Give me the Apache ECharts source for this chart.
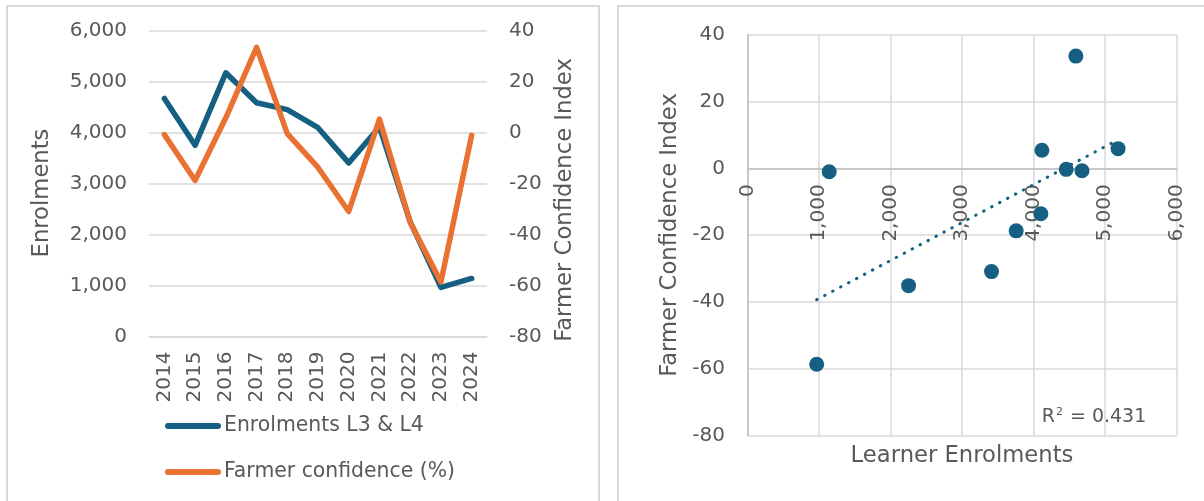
<!DOCTYPE html>
<html>
<head>
<meta charset="utf-8">
<script src="https://cdn.jsdelivr.net/npm/echarts@6/dist/echarts.min.js"></script>
<style>
html,body{margin:0;padding:0;background:#ffffff;}
#chart{width:1204px;height:501px;}
</style>
</head>
<body>
<div id="chart"></div>
<script>
// ---- data ----
const years = ['2014','2015','2016','2017','2018','2019','2020','2021','2022','2023','2024'];
const enrolments = [4675, 3755, 5180, 4590, 4455, 4100, 3410, 4115, 2250, 965, 1140];
const confidence = [-0.7, -18.7, 5.9, 33.6, -0.3, -13.6, -30.9, 5.4, -35.1, -58.6, -1.0];
const seriesNames = ['Enrolments L3 & L4', 'Farmer confidence (%)'];
const axisTitles = { enrol: 'Enrolments', conf: 'Farmer Confidence Index', learner: 'Learner Enrolments' };
const r2Label = '0.431';

// ---- styles ----
const BLUE = '#156082', ORANGE = '#E97132', TXT = '#595959', GRID = '#d9d9d9', AX = '#bfbfbf';
const FONT = '"DejaVu Sans", sans-serif';

// scatter pairs and linear trendline (least squares, computed from the data)
const pairs = enrolments.map((e, i) => [e, confidence[i]]);
const n = pairs.length;
const mx = enrolments.reduce((a, b) => a + b, 0) / n;
const my = confidence.reduce((a, b) => a + b, 0) / n;
let sxy = 0, sxx = 0;
pairs.forEach(([x, y]) => { sxy += (x - mx) * (y - my); sxx += (x - mx) * (x - mx); });
const slope = sxy / sxx, icpt = my - slope * mx;
const xMin = Math.min(...enrolments), xMax = Math.max(...enrolments);
const trend = [[xMin, icpt + slope * xMin], [xMax, icpt + slope * xMax]];

const fmt = v => Number(v).toLocaleString('en-US');
const tickFont = { color: TXT, fontFamily: FONT, fontSize: 20 };

// scatter grid geometry; x axis is drawn where y = 0
const SG = { left: 747.7, top: 34.7, width: 429, height: 401 };
const Y2 = { min: -80, max: 40 };
const zeroOffset = -SG.height * (0 - Y2.min) / (Y2.max - Y2.min);

const chart = echarts.init(document.getElementById('chart'), null, { renderer: 'canvas' });
chart.setOption({
  animation: false,
  backgroundColor: '#ffffff',
  textStyle: { fontFamily: FONT },
  graphic: [
    { type: 'rect', shape: { x: 7, y: 6, width: 592, height: 520 }, style: { fill: 'none', stroke: GRID, lineWidth: 2 }, z: 0 },
    { type: 'rect', shape: { x: 618, y: 6, width: 600, height: 520 }, style: { fill: 'none', stroke: GRID, lineWidth: 2 }, z: 0 },
    { type: 'text', x: 42, y: 193, rotation: Math.PI / 2, style: { text: axisTitles.enrol, font: '22.7px ' + FONT, fill: TXT, align: 'center', verticalAlign: 'middle' } },
    { type: 'text', x: 565, y: 200, rotation: Math.PI / 2, style: { text: axisTitles.conf, font: '22.7px ' + FONT, fill: TXT, align: 'center', verticalAlign: 'middle' } },
    { type: 'text', x: 670, y: 235, rotation: Math.PI / 2, style: { text: axisTitles.conf, font: '22.7px ' + FONT, fill: TXT, align: 'center', verticalAlign: 'middle' } },
    { type: 'text', x: 962, y: 456, style: { text: axisTitles.learner, font: '22.7px ' + FONT, fill: TXT, align: 'center', verticalAlign: 'middle' } },
    { type: 'text', x: 1094, y: 417, style: {
        text: '{a|R}{s|2}{a| = ' + r2Label + '}', align: 'center', verticalAlign: 'middle',
        rich: { a: { fontFamily: FONT, fontSize: 19, fill: TXT, color: TXT }, s: { fontFamily: FONT, fontSize: 11, color: TXT, fill: TXT, verticalAlign: 'top', padding: [0, 1, 10, 1] } } } }
  ],
  legend: {
    data: seriesNames,
    orient: 'vertical',
    left: 160, top: 409,
    itemWidth: 56, itemHeight: 6, itemGap: 22,
    icon: 'path://M3,0 L53,0 A3,3 0 0 1 53,6 L3,6 A3,3 0 0 1 3,0 Z',
    textStyle: { color: TXT, fontFamily: FONT, fontSize: 20.4, lineHeight: 24, padding: [0, 0, 0, -2] },
    selectedMode: false
  },
  grid: [
    { left: 149, top: 31, width: 338, height: 305.5, containLabel: false },
    { left: SG.left, top: SG.top, width: SG.width, height: SG.height, containLabel: false }
  ],
  xAxis: [
    { type: 'category', gridIndex: 0, data: years, boundaryGap: true,
      axisLine: { show: true, lineStyle: { color: GRID, width: 1.5 } }, axisTick: { show: false },
      axisLabel: Object.assign({ rotate: 90, margin: 15, interval: 0 }, tickFont), splitLine: { show: false } },
    { type: 'value', gridIndex: 1, min: 0, max: 6000, interval: 1000, position: 'bottom', offset: zeroOffset,
      axisLine: { show: true, onZero: false, lineStyle: { color: AX, width: 1.5 } }, axisTick: { show: false },
      axisLabel: Object.assign({ rotate: 90, margin: 16, formatter: fmt }, tickFont),
      splitLine: { show: true, lineStyle: { color: GRID, width: 1.5 } } }
  ],
  yAxis: [
    { type: 'value', gridIndex: 0, min: 0, max: 6000, interval: 1000, position: 'left',
      axisLine: { show: false }, axisTick: { show: false },
      axisLabel: Object.assign({ margin: 22, formatter: fmt }, tickFont),
      splitLine: { show: true, lineStyle: { color: GRID, width: 1.5 } } },
    { type: 'value', gridIndex: 0, min: -80, max: 40, interval: 20, position: 'right',
      axisLine: { show: false }, axisTick: { show: false },
      axisLabel: Object.assign({ margin: 22 }, tickFont), splitLine: { show: false } },
    { type: 'value', gridIndex: 1, min: Y2.min, max: Y2.max, interval: 20,
      axisLine: { show: true, onZero: false, lineStyle: { color: AX, width: 1.5 } }, axisTick: { show: false },
      axisLabel: Object.assign({ margin: 22.7 }, tickFont),
      splitLine: { show: true, lineStyle: { color: GRID, width: 1.5 } } }
  ],
  series: [
    { name: seriesNames[0], type: 'line', xAxisIndex: 0, yAxisIndex: 0, data: enrolments,
      symbol: 'none', lineStyle: { color: BLUE, width: 5.5, cap: 'round', join: 'round' }, itemStyle: { color: BLUE }, z: 3 },
    { name: seriesNames[1], type: 'line', xAxisIndex: 0, yAxisIndex: 1, data: confidence,
      symbol: 'none', lineStyle: { color: ORANGE, width: 5.5, cap: 'round', join: 'round' }, itemStyle: { color: ORANGE }, z: 4 },
    { name: 'scatter', type: 'scatter', xAxisIndex: 1, yAxisIndex: 2, data: pairs,
      symbol: 'circle', symbolSize: 15, itemStyle: { color: BLUE, opacity: 1 }, z: 4 },
    { name: 'trend', type: 'line', xAxisIndex: 1, yAxisIndex: 2, data: trend, symbol: 'none',
      lineStyle: { color: BLUE, width: 3, type: [0.5, 8.5], cap: 'round' }, z: 3 }
  ]
});
</script>
</body>
</html>
